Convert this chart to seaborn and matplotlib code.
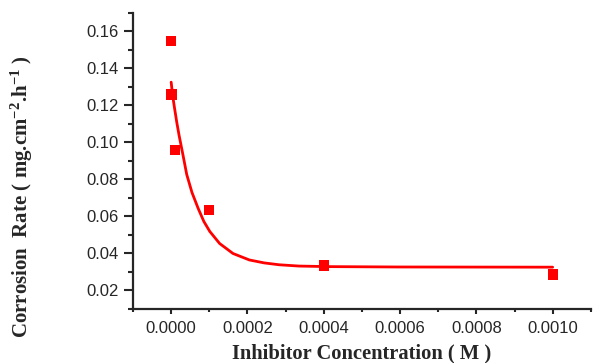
import numpy as np
import pandas as pd
import matplotlib
matplotlib.use("Agg")
import matplotlib.pyplot as plt
from matplotlib.ticker import MultipleLocator, FormatStrFormatter
import seaborn as sb

# measured points
conc = [0.0, 0.000001, 0.00001, 0.0001, 0.0004, 0.001]
rate = [0.155, 0.126, 0.096, 0.0635, 0.0335, 0.0286]

# fitted curve
fit_x = [0.0, 0.0000039, 0.0000086, 0.0000148, 0.0000208, 0.0000312, 0.0000408,
         0.0000545, 0.0000709, 0.0000857, 0.0001013, 0.000127, 0.000162,
         0.000205, 0.000244, 0.000283, 0.000335, 0.000413, 0.000595, 0.001]
fit_y = [0.1326, 0.1254, 0.1189, 0.1108, 0.1038, 0.0930, 0.0827,
         0.0730, 0.0643, 0.0573, 0.0519, 0.0454, 0.0400,
         0.0365, 0.0349, 0.0339, 0.0332, 0.0329, 0.0327, 0.0326]

df = pd.DataFrame({"conc": conc, "rate": rate})
fit = pd.DataFrame({"x": fit_x, "y": fit_y})

sb.set_style("ticks")
plt.rcParams["font.family"] = ["Liberation Sans", "DejaVu Sans"]
plt.rcParams["mathtext.fontset"] = "custom"
plt.rcParams["mathtext.rm"] = "Liberation Serif:bold"
plt.rcParams["mathtext.it"] = "Liberation Serif:bold"
plt.rcParams["mathtext.bf"] = "Liberation Serif:bold"
plt.rcParams["mathtext.default"] = "rm"

fig = plt.figure(figsize=(5.93, 3.63), dpi=100)
ax = fig.add_axes([0.2243, 0.1488, 0.772, 0.8155])

sb.lineplot(data=fit, x="x", y="y", color="#ff0000", linewidth=2, ax=ax)
sb.scatterplot(data=df, x="conc", y="rate", marker="s", color="#ff0000",
               s=55, edgecolor="none", ax=ax, zorder=3)

ax.set_xlim(-0.0001, 0.0011)
ax.set_ylim(0.01, 0.17)
ax.xaxis.set_major_locator(MultipleLocator(0.0002))
ax.xaxis.set_minor_locator(MultipleLocator(0.0001))
ax.yaxis.set_major_locator(MultipleLocator(0.02))
ax.yaxis.set_minor_locator(MultipleLocator(0.01))
ax.xaxis.set_major_formatter(FormatStrFormatter("%.4f"))
ax.yaxis.set_major_formatter(FormatStrFormatter("%.2f"))

for s in ["top", "right"]:
    ax.spines[s].set_visible(False)
for s in ["left", "bottom"]:
    ax.spines[s].set_linewidth(1.6)
ax.tick_params(axis="y", which="major", direction="out", length=6.5, width=1.5, labelsize=12, pad=4)
ax.tick_params(axis="y", which="minor", direction="out", length=3.6, width=1.5)
ax.tick_params(axis="x", which="major", direction="out", length=3.6, width=1.5, labelsize=12, pad=5)
ax.tick_params(axis="x", which="minor", direction="out", length=2.2, width=1.5)

ax.set_xlabel("Inhibitor Concentration ( M )", family="Liberation Serif",
              fontweight="bold", fontsize=14.8)
ax.set_ylabel("Corrosion  Rate ( mg.cm$^{-2}$.h$^{-1}$ )", family="Liberation Serif",
              fontweight="bold", fontsize=15)
ax.xaxis.set_label_coords(0.5, -0.118)
ax.yaxis.set_label_coords(-0.215, 0.378)

fig.savefig("out.png", dpi=100)
